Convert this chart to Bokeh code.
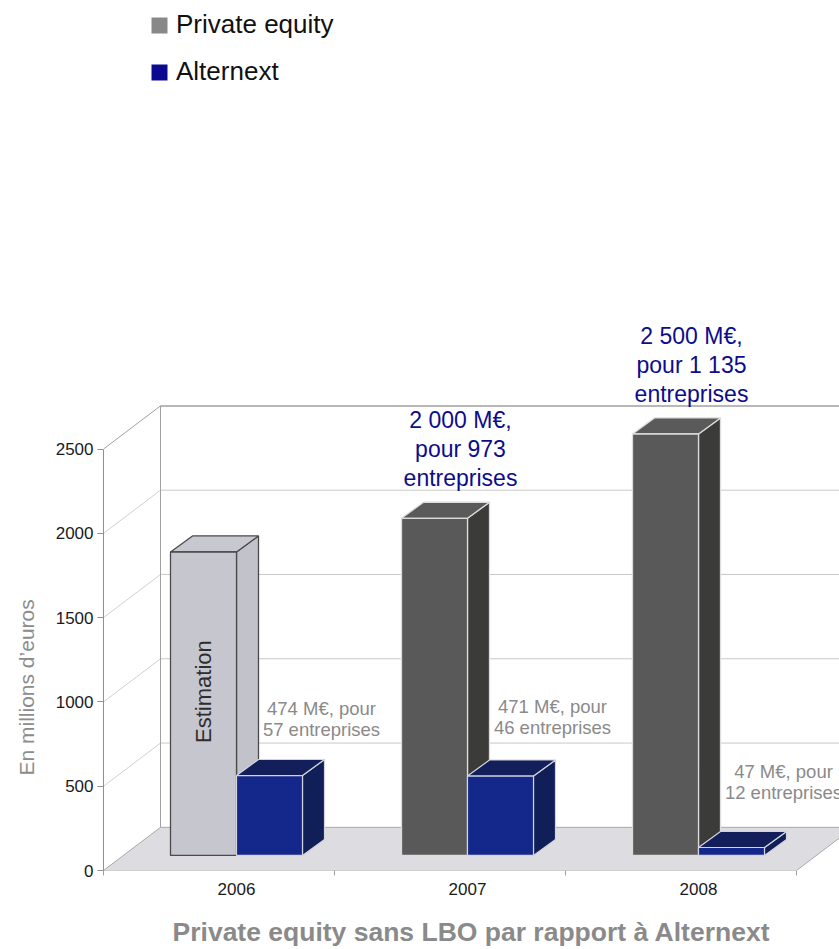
import math
from bokeh.plotting import figure
from bokeh.models import Range1d, FixedTicker, Legend, LegendItem, ColumnDataSource, Title
from bokeh.core.properties import value
from bokeh.embed import file_html
from bokeh.resources import INLINE

# ---------------- data ----------------
years = ["2006", "2007", "2008"]
private_equity = [1800, 2000, 2500]          # M€
alternext = [474, 471, 47]                   # M€
estimated = [True, False, False]
pe_notes = ["", "2 000 M€,\npour 973\nentreprises", "2 500 M€,\npour 1 135\nentreprises"]
alt_notes = ["474 M€, pour\n57 entreprises", "471 M€, pour\n46 entreprises", "47 M€, pour\n12 entreprises"]
y_ticks = [0, 500, 1000, 1500, 2000, 2500]

# ---------------- layout (pixels) ----------------
W, H = 839, 949
LEFT = 103
FRAME_W = W - LEFT
FRAME_H = 867
PXX = 231.0     # px per category
PXY = 0.168     # px per M€
FONT = "Liberation Sans"

def dxp(px):
    return px / PXX

def dyp(px):
    return px / PXY

X0 = dxp(-133)                 # front-left corner of the floor
X_END = X0 + dxp(FRAME_W)
Y_END = dyp(FRAME_H)
DXB, DYB = dxp(57), dyp(43)    # depth of the 3D box
BASE = dyp(15)                 # bars stand slightly behind the front edge
BW = dxp(66)                   # bar width
DDX, DDY = dxp(22), dyp(16)    # bar depth
alt_note_lift = [71, 74, 80]   # px above bar top (label placement)

p = figure(width=W, height=H, output_backend="svg", toolbar_location=None,
           x_range=Range1d(X0, X_END), y_range=Range1d(0, Y_END),
           min_border_left=LEFT, min_border_right=0, min_border_top=0, min_border_bottom=0)
p.outline_line_color = None
p.grid.visible = False
p.background_fill_color = "white"
p.border_fill_color = "white"

# ---------------- axes ----------------
ya = p.yaxis[0]
ya.ticker = FixedTicker(ticks=y_ticks, minor_ticks=[])
ya.bounds = (0, max(y_ticks))
ya.axis_line_color = "#909090"
ya.major_tick_line_color = "#909090"
ya.major_tick_out = 6
ya.major_tick_in = 0
ya.minor_tick_line_color = None
ya.major_label_text_font = FONT
ya.major_label_text_font_size = "17px"
ya.major_label_text_color = "#1a1a1a"
ya.major_label_standoff = 4

xa = p.xaxis[0]
xa.ticker = FixedTicker(ticks=list(range(len(years))),
                        minor_ticks=[X0 + k for k in range(len(years) + 1)])
xa.major_label_overrides = {i: y for i, y in enumerate(years)}
xa.axis_line_color = None
xa.major_tick_line_color = None
xa.major_tick_out = 0
xa.major_tick_in = 0
xa.minor_tick_line_color = "#a0a0a0"
xa.minor_tick_out = 5
xa.minor_tick_in = 0
xa.major_label_text_font = FONT
xa.major_label_text_font_size = "17px"
xa.major_label_text_color = "#1a1a1a"
xa.major_label_standoff = 7
xa.axis_label = "Private equity sans LBO par rapport à Alternext"
xa.axis_label_text_font = FONT
xa.axis_label_text_font_size = "26.5px"
xa.axis_label_text_font_style = "bold"
xa.axis_label_text_color = "#8a8a8a"
xa.axis_label_standoff = 19

# y axis title, in the left panel
p.add_layout(Title(text="En millions d’euros", align="left", offset=95, standoff=26,
                   vertical_align="top",
                   text_font=FONT, text_font_size="21px", text_font_style="normal",
                   text_color="#8c8c8c"), "left")

# ---------------- 3D box: floor and walls ----------------
n = len(years)
p.patch([X0, X0 + n, X0 + n + DXB, X0 + DXB], [0, 0, DYB, DYB],
        fill_color="#dddce1", line_color="#a8a8a8", line_width=1)

top = max(y_ticks)
far = X_END + 1
grid_v = [v for v in y_ticks if v > 0]
p.segment(x0=[X0 + DXB] * len(grid_v), y0=[v + DYB for v in grid_v],
          x1=[far] * len(grid_v), y1=[v + DYB for v in grid_v],
          line_color=["#a0a0a0" if v == top else "#c8c8c8" for v in grid_v],
          line_width=[1.5 if v == top else 1 for v in grid_v])
p.segment(x0=[X0] * len(grid_v), y0=grid_v,
          x1=[X0 + DXB] * len(grid_v), y1=[v + DYB for v in grid_v],
          line_color=["#a0a0a0" if v == top else "#d0d0d0" for v in grid_v], line_width=1)
p.segment(x0=[X0 + DXB], y0=[DYB], x1=[X0 + DXB], y1=[top + DYB],
          line_color="#a0a0a0", line_width=1)

# ---------------- bars ----------------
def box(x_left, v):
    x_right = x_left + BW
    front = ([x_left, x_right, x_right, x_left], [BASE, BASE, BASE + v, BASE + v])
    top_f = ([x_left, x_right, x_right + DDX, x_left + DDX],
             [BASE + v, BASE + v, BASE + v + DDY, BASE + v + DDY])
    side = ([x_right, x_right + DDX, x_right + DDX, x_right],
            [BASE, BASE + DDY, BASE + v + DDY, BASE + v])
    return front, top_f, side

def draw_series(vals, lefts, front_cols, side_cols, top_cols, line_cols, line_w):
    faces = [[], [], []]
    for v, xl in zip(vals, lefts):
        f, t, s = box(xl, v)
        faces[0].append(s)
        faces[1].append(t)
        faces[2].append(f)
    for k, cols in zip(range(3), [side_cols, top_cols, front_cols]):
        src = ColumnDataSource(dict(xs=[f[0] for f in faces[k]], ys=[f[1] for f in faces[k]],
                                    fc=cols, lc=line_cols))
        p.patches("xs", "ys", source=src, fill_color="fc", line_color="lc", line_width=line_w)

idx = list(range(n))
pe_front = ["#c6c6ce" if e else "#595959" for e in estimated]
pe_side = ["#c2c2ca" if e else "#3b3c39" for e in estimated]
pe_top = ["#c8c8d0" if e else "#5a5a5a" for e in estimated]
pe_line = ["#4a4a4a" if e else "#dcdcdc" for e in estimated]
draw_series(private_equity, [i - BW for i in idx], pe_front, pe_side, pe_top, pe_line, 1.3)

alt_front = ["#13288a"] * n
alt_side = ["#111f58"] * n
alt_top = ["#121f5a"] * n
alt_line = ["#d4d4dc"] * n
draw_series(alternext, idx, alt_front, alt_side, alt_top, alt_line, 1.2)

# ---------------- texts ----------------
est_i = [i for i in idx if estimated[i]]
p.text(x=[i - BW / 2 for i in est_i], y=[BASE + private_equity[i] * 0.54 for i in est_i],
       text=["Estimation"] * len(est_i), angle=math.pi / 2,
       text_align="center", text_baseline="middle",
       text_font=value(FONT), text_font_size="22px", text_color="#2e2e2e")

pi_ = [i for i in idx if pe_notes[i]]
p.text(x=[i - dxp(7) for i in pi_], y=[private_equity[i] + dyp(84) for i in pi_],
       text=[pe_notes[i] for i in pi_], text_align="center", text_baseline="middle",
       text_line_height=1.12,
       text_font=value(FONT), text_font_size="23px", text_color="#0c0c8c")

p.text(x=[i + dxp(85) for i in idx],
       y=[alternext[i] + dyp(alt_note_lift[i]) for i in idx],
       text=alt_notes, text_align="center", text_baseline="middle",
       text_line_height=1.0,
       text_font=value(FONT), text_font_size="18.5px", text_color="#8a8a8a")

# ---------------- legend ----------------
hide_x = [X_END + 5]
r_pe = p.quad(left=hide_x, right=hide_x, top=[0], bottom=[0], fill_color="#888888", line_color=None)
r_alt = p.quad(left=hide_x, right=hide_x, top=[0], bottom=[0], fill_color="#0a0a90", line_color=None)
legend = Legend(items=[LegendItem(label="Private equity", renderers=[r_pe]),
                       LegendItem(label="Alternext", renderers=[r_alt])],
                location=(46, FRAME_H - 4 - 80), orientation="vertical",
                glyph_width=20, glyph_height=20, label_standoff=7, spacing=16,
                padding=0, margin=0, border_line_color=None, background_fill_alpha=0,
                label_text_font=FONT, label_text_font_size="26px", label_text_color="#111111")
p.add_layout(legend)

open("out.html", "w").write(file_html(p, INLINE))
